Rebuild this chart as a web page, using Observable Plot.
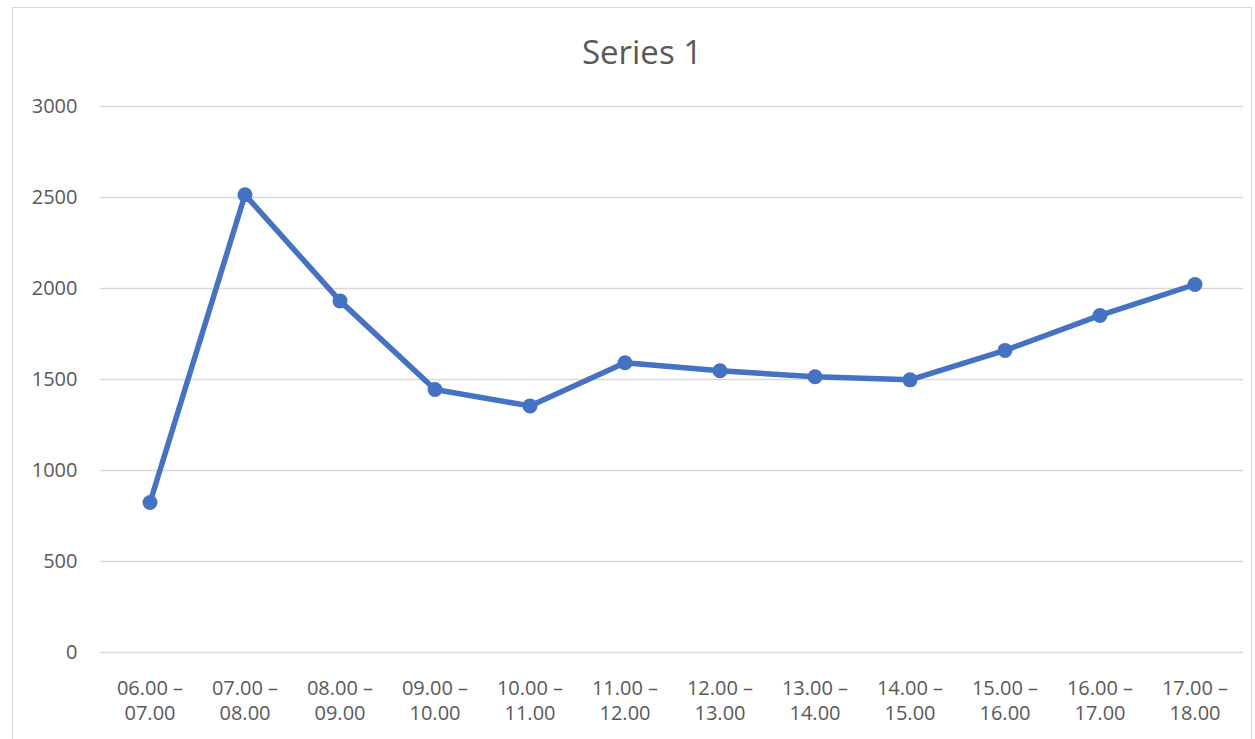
<!DOCTYPE html>
<html>
<head>
<meta charset="utf-8">
<script src="https://cdn.jsdelivr.net/npm/d3@7"></script>
<script src="https://cdn.jsdelivr.net/npm/@observablehq/plot@0.6"></script>
<style>
  html, body { margin: 0; padding: 0; background: #fff; }
  #wrap { position: relative; width: 1255px; height: 739px; overflow: hidden; font-family: "Open Sans", sans-serif; }
  #border { position: absolute; left: 12px; top: 7px; width: 1240px; height: 760px; border: 1px solid #d9d9d9; box-sizing: border-box; }
  #title { position: absolute; left: 12px; width: 1260px; top: 31px; text-align: center; font-size: 33px; color: #595959; line-height: 42px; }
  #chart { position: absolute; left: 0; top: 0; }
</style>
</head>
<body>
<div id="wrap">
  <div id="border"></div>
  <div id="title">Series 1</div>
  <div id="chart"></div>
</div>
<script>
const categories = ["06.00 – 07.00","07.00 – 08.00","08.00 – 09.00","09.00 – 10.00","10.00 – 11.00","11.00 – 12.00","12.00 – 13.00","13.00 – 14.00","14.00 – 15.00","15.00 – 16.00","16.00 – 17.00","17.00 – 18.00"];
const values = [824, 2515, 1932, 1445, 1355, 1592, 1548, 1515, 1498, 1660, 1852, 2022];
const yTicks = [0, 500, 1000, 1500, 2000, 2500, 3000];

const data = categories.map((c, i) => ({cat: c, v: values[i]}));

const chart = Plot.plot({
  width: 1255,
  height: 739,
  marginLeft: 100,
  marginRight: 12,
  marginTop: 106,
  marginBottom: 87,
  style: {fontFamily: "Open Sans, sans-serif", background: "transparent", fontSize: "20px"},
  x: {type: "band", domain: categories, padding: 0},
  y: {domain: [0, 3000]},
  marks: [
    Plot.gridY(yTicks, {stroke: "#d9d9d9", strokeOpacity: 1, strokeWidth: 1.5}),
    Plot.axisY(yTicks, {tickSize: 0, tickPadding: 23, fontSize: 20, fill: "#595959", label: null, tickFormat: d => String(d)}),
    Plot.axisX({tickSize: 0, tickPadding: 25, fontSize: 20, fill: "#595959", label: null, lineHeight: 1.25,
      tickFormat: d => d.replace(" – ", " –\n")}),
    Plot.line(data, {x: "cat", y: "v", stroke: "#4472c4", strokeWidth: 5.5, strokeLinejoin: "round", strokeLinecap: "round"}),
    Plot.dot(data, {x: "cat", y: "v", r: 7.5, fill: "#4472c4", stroke: "none"})
  ]
});
document.getElementById("chart").appendChild(chart);
</script>
</body>
</html>
